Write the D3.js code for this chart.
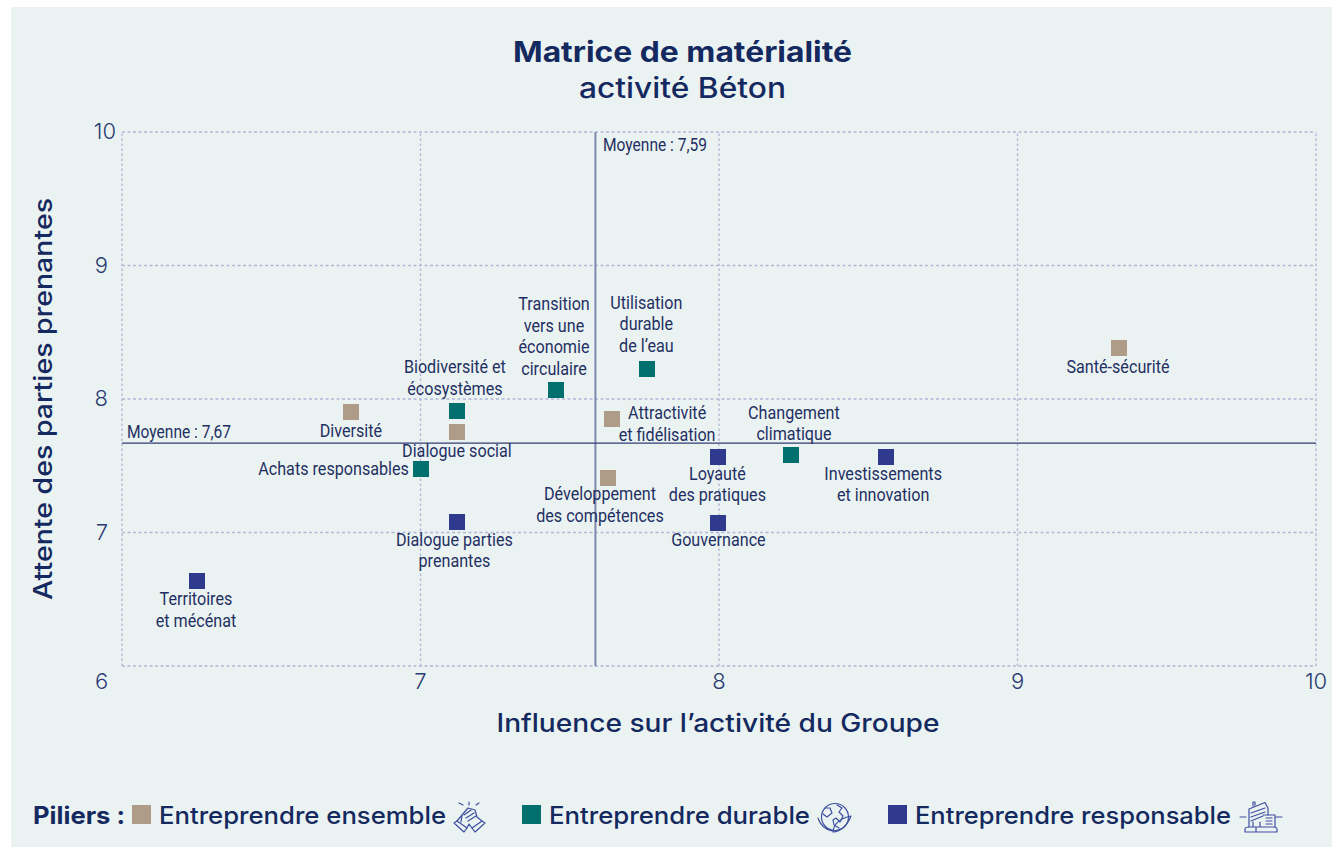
<!DOCTYPE html>
<html>
<head>
<meta charset="utf-8">
<script src="https://cdn.jsdelivr.net/npm/d3@7"></script>
<style>
  body { margin: 0; background: #fff; }
  svg { display: block; }
  .wide { font-family: "Inter", "Noto Sans", sans-serif; }
  .narrow { font-family: "Roboto", sans-serif; }
</style>
</head>
<body>
<svg id="chart" width="1335" height="847"></svg>
<script>
var names = ['Santé-sécurité', 'Diversité', 'Dialogue social', 'Attractivité et fidélisation', 'Développement des compétences',
  'Biodiversité et écosystèmes', 'Achats responsables', 'Transition vers une économie circulaire', 'Utilisation durable de l’eau', 'Changement climatique',
  'Dialogue parties prenantes', 'Territoires et mécénat', 'Loyauté des pratiques', 'Gouvernance', 'Investissements et innovation'];
var influence = [9.34, 6.767, 7.122, 7.642, 7.628, 7.122, 7.002, 7.454, 7.76, 8.241, 7.122, 6.251, 7.998, 7.998, 8.56];
var attente = [8.382, 7.903, 7.753, 7.85, 7.408, 7.91, 7.476, 8.067, 8.225, 7.581, 7.079, 6.637, 7.568, 7.071, 7.568];
var piliers = [0, 0, 0, 0, 0, 1, 1, 1, 1, 1, 2, 2, 2, 2, 2];
var pilierNames = ['Entreprendre ensemble', 'Entreprendre durable', 'Entreprendre responsable'];
var pilierColors = ['#ae9c89', '#00706f', '#2f3a8f'];
var ticks = [6, 7, 8, 9, 10];
var moyenneX = 7.586;
var moyenneY = 7.67;

// label layout, px from the marker: lines, dx, baseline of first line
var labelLayout = {
  'Santé-sécurité': { lines: ['Santé-sécurité'], dx: -1, dy: 25 },
  'Diversité': { lines: ['Diversité'], dx: 0, dy: 25 },
  'Dialogue social': { lines: ['Dialogue social'], dx: 0, dy: 25 },
  'Attractivité et fidélisation': { lines: ['Attractivité', 'et fidélisation'], dx: 55, dy: 0 },
  'Développement des compétences': { lines: ['Développement', 'des compétences'], dx: -8, dy: 22 },
  'Biodiversité et écosystèmes': { lines: ['Biodiversité et', 'écosystèmes'], dx: -2, dy: -38 },
  'Achats responsables': { lines: ['Achats responsables'], dx: -87.5, dy: 6 },
  'Transition vers une économie circulaire': { lines: ['Transition', 'vers une', 'économie', 'circulaire'], dx: -2, dy: -80 },
  'Utilisation durable de l’eau': { lines: ['Utilisation', 'durable', 'de l’eau'], dx: -1, dy: -60 },
  'Changement climatique': { lines: ['Changement', 'climatique'], dx: 3, dy: -36 },
  'Dialogue parties prenantes': { lines: ['Dialogue parties', 'prenantes'], dx: -2.5, dy: 24 },
  'Territoires et mécénat': { lines: ['Territoires', 'et mécénat'], dx: -1, dy: 24.5 },
  'Loyauté des pratiques': { lines: ['Loyauté', 'des pratiques'], dx: -1, dy: 23 },
  'Gouvernance': { lines: ['Gouvernance'], dx: 0, dy: 23 },
  'Investissements et innovation': { lines: ['Investissements', 'et innovation'], dx: -3, dy: 23 }
};

var navy = '#14295f';
var labelColor = '#1f2f63';
var iconColor = '#3f4fa0';
var svg = d3.select('#chart');

// Neither installed family is condensed or as wide as the reference's, so stretch to measured widths.
function fitWidth(sel, width) {
  sel.attr('textLength', width).attr('lengthAdjust', 'spacingAndGlyphs');
}

function squeeze(sel, k) {
  sel.each(function() {
    fitWidth(d3.select(this), this.getComputedTextLength() * k);
  });
}

svg.append('rect')
  .attr('x', 11).attr('y', 7)
  .attr('width', 1321).attr('height', 840)
  .attr('fill', '#ebf3f2');

var x = d3.scaleLinear().domain([6, 10]).range([122, 1316]);
var y = d3.scaleLinear().domain([6, 10]).range([666, 132]);

// grid
var grid = svg.append('g')
  .attr('stroke', '#b3b6d6')
  .attr('stroke-width', 1.4);
grid.selectAll('.gx').data(ticks).enter().append('line')
  .attr('x1', x).attr('x2', x).attr('y1', y(6)).attr('y2', y(10))
  .attr('stroke-dasharray', '2.5 2.5');
grid.selectAll('.gy').data(ticks).enter().append('line')
  .attr('y1', y).attr('y2', y).attr('x1', x(6)).attr('x2', x(10))
  .attr('stroke-dasharray', '3 2.5');

// tick labels
var tickText = svg.append('g').attr('class', 'wide')
  .attr('fill', '#2a3c72').attr('font-size', 22).attr('font-weight', 300);
tickText.selectAll('.tx').data(ticks).enter().append('text')
  .attr('x', function(d) { return d === 6 ? 101.5 : x(d); })
  .attr('y', 689).attr('text-anchor', 'middle')
  .text(function(d) { return d; });
tickText.selectAll('.ty').data(ticks.slice(1)).enter().append('text')
  .attr('x', function(d) { return d < 10 ? 108 : 116; })
  .attr('y', function(d) { return y(d) + 7; }).attr('text-anchor', 'end')
  .text(function(d) { return d; });

// average lines
svg.append('line')
  .attr('x1', x(moyenneX)).attr('x2', x(moyenneX)).attr('y1', y(10)).attr('y2', y(6))
  .attr('stroke', '#7f89b0').attr('stroke-width', 2);
svg.append('line')
  .attr('x1', x(6)).attr('x2', x(10)).attr('y1', y(moyenneY)).attr('y2', y(moyenneY))
  .attr('stroke', '#2f3c70').attr('stroke-width', 1.3);

var narrow = svg.append('g').attr('class', 'narrow')
  .attr('fill', labelColor).attr('font-size', 19);
var moyenneText = [
  narrow.append('text').attr('x', 603).attr('y', 151).text('Moyenne : 7,59'),
  narrow.append('text').attr('x', 127).attr('y', 438).text('Moyenne : 7,67')
];
moyenneText.forEach(function(t) { fitWidth(t, 104); });

// markers
var size = 16;
var rows = d3.range(names.length);
svg.append('g').selectAll('rect').data(rows).enter().append('rect')
  .attr('x', function(i) { return Math.round(x(influence[i]) - size / 2); })
  .attr('y', function(i) { return Math.round(y(attente[i]) - size / 2); })
  .attr('width', size).attr('height', size)
  .attr('fill', function(i) { return pilierColors[piliers[i]]; });

// point labels
rows.forEach(function(i) {
  var lay = labelLayout[names[i]];
  var px = x(influence[i]) + lay.dx;
  var py = y(attente[i]) + lay.dy;
  narrow.selectAll('.l' + i).data(lay.lines).enter().append('text')
    .attr('text-anchor', 'middle')
    .attr('x', px)
    .attr('y', function(d, k) { return py + k * 21.5; })
    .text(function(d) { return d; })
    .call(squeeze, 0.85);
});

// titles
var titles = svg.append('g').attr('class', 'wide').attr('fill', navy).attr('text-anchor', 'middle');
titles.append('text').attr('x', 682.5).attr('y', 62).attr('font-size', 28).attr('font-weight', 700)
  .text('Matrice de matérialité').call(fitWidth, 339);
titles.append('text').attr('x', 682.5).attr('y', 98).attr('font-size', 28).attr('font-weight', 500)
  .text('activité Béton').call(fitWidth, 207);
titles.append('text').attr('x', 718).attr('y', 732).attr('font-size', 25).attr('font-weight', 500)
  .text('Influence sur l’activité du Groupe').call(fitWidth, 443);
titles.append('text').attr('transform', 'translate(52,399) rotate(-90)').attr('font-size', 25).attr('font-weight', 500)
  .text('Attente des parties prenantes').call(fitWidth, 402);

// legend
var legend = svg.append('g').attr('class', 'wide').attr('fill', navy).attr('font-size', 24);
legend.append('text').attr('x', 33).attr('y', 824).attr('font-weight', 700).text('Piliers :').call(fitWidth, 92);
var legendX = [132, 522, 888];
var legendW = [287, 261, 316];
legend.selectAll('.sw').data(pilierColors).enter().append('rect')
  .attr('x', function(d, i) { return legendX[i]; }).attr('y', 805)
  .attr('width', 19).attr('height', 19)
  .attr('fill', function(d) { return d; });
legend.selectAll('.nm').data(pilierNames).enter().append('text')
  .attr('x', function(d, i) { return legendX[i] + 27; }).attr('y', 824)
  .attr('font-weight', 500)
  .text(function(d) { return d; })
  .each(function(d, i) { fitWidth(d3.select(this), legendW[i]); });

// legend pictograms, hand drawn
var icons = svg.append('g').attr('fill', 'none').attr('stroke', iconColor)
  .attr('stroke-width', 1.2).attr('stroke-linecap', 'round').attr('stroke-linejoin', 'round');

var hands = icons.append('g').attr('transform', 'translate(440,780)');
hands.append('path').attr('d', 'M19 23 L23 25 M29 22 V25 M39 23 L36 25');
hands.append('path').attr('d', 'M14 43 L17 41 L27 48 L24 52 Z M45 43 L42 41 L32 48 L35 52 Z');
hands.append('path').attr('d', 'M17 41 L22 35 L28 28 L35 30 L37 37 L42 41 M27 48 L29 44 L32 48 M22 35 L21 42');
hands.append('path').attr('d', 'M24 35 L31 30 M26 38 L34 33 M28 41 L36 36');

var globe = icons.append('g').attr('transform', 'translate(805,785)');
globe.append('circle').attr('cx', 30).attr('cy', 32).attr('r', 13.5);
globe.append('path').attr('d', 'M20 23 L25 23 L27 28 L22 32 L18 29 M32 20 L37 23 L34 27 L38 31 L35 37 L31 33 L28 35 L29 40 L34 43');
globe.append('path').attr('d', 'M13 33 Q16 43 27 46 M28 47 Q40 46 46 31 Q36 33 31 39 Q28 43 28 47');

var building = icons.append('g').attr('transform', 'translate(1230,785)');
building.append('path').attr('d', 'M19 42 V24 L35 17.5 L38 23 V30 M23 21 V17 H25 V20');
building.append('path').attr('d', 'M21 28 L35 23 M21 32 L35 27 M21 36 L33 31');
building.append('path').attr('d', 'M33 30 H45 V42 M36 33 H42 M36 36 H42 M36 39 H42');
building.append('path').attr('d', 'M15 47 V44 Q15 42 19 42 H43 Q47 42 47 44 V47 Z M23 42 V37 M30 42 V37 M26 47 V42');
building.append('path').attr('d', 'M10 32 H16 M46 32 H52');
</script>
</body>
</html>
